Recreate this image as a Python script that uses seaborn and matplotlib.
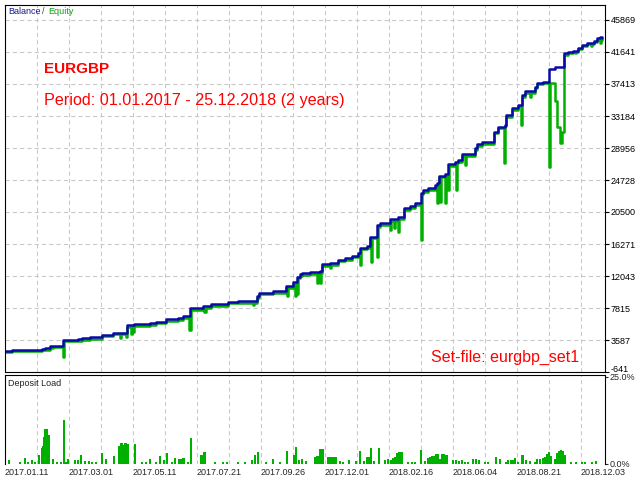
import numpy as np
import pandas as pd
import matplotlib
matplotlib.use("Agg")
import matplotlib.pyplot as plt
import seaborn as sns

# --- data (x = deal index along the chart) ---
bal_x = [0, 7, 37, 40, 45, 48, 58, 73, 77, 85, 97, 108, 122, 129, 145, 151, 161, 173, 178, 185,
         198, 206, 223, 233, 252, 254, 268, 281, 288, 292, 295, 297, 305, 315, 317, 325, 333, 340,
         347, 353, 355, 362, 365, 372, 375, 385, 393, 399, 405, 410, 416, 418, 423, 430, 432, 434,
         440, 443, 450, 453, 457, 467, 470, 472, 477, 489, 493, 500, 501, 507, 513, 517, 520, 530,
         532, 538, 544, 550, 559, 563, 568, 573, 577, 582, 589, 592, 595, 597]
balance = [2130, 2270, 2400, 2530, 2730, 2830, 3590, 3720, 3850, 3980, 4290, 4550, 5570, 5700,
           5830, 5970, 6360, 6490, 6760, 7815, 8080, 8340, 8610, 8740, 9400, 9800, 10060, 10660,
           11250, 11960, 12310, 12440, 12570, 12700, 13630, 13760, 14160, 14420, 14690, 15080,
           15780, 16010, 17260, 18780, 19050, 19580, 19840, 21030, 21290, 21690, 23050, 23410,
           23670, 24070, 24290, 25300, 25520, 26840, 27150, 27370, 28100, 28160, 28960, 29480,
           29750, 31110, 31770, 32000, 33320, 34240, 34640, 35960, 36490, 37060, 37580, 37720,
           39400, 39620, 41470, 41680, 41810, 42210, 42570, 42870, 43140, 43450, 43580, 43450]

eq_x = [0, 7, 37, 40, 45, 48, 58, 59, 73, 77, 85, 97, 108, 115, 116, 121, 122, 126, 127, 128, 129,
        145, 151, 161, 173, 178, 184, 186, 198, 199, 201, 206, 223, 233, 248, 249, 251, 252, 254,
        268, 281, 282, 283, 288, 290, 291, 292, 293, 295, 297, 305, 312, 313, 315, 316, 317, 325,
        326, 333, 340, 347, 353, 355, 356, 362, 365, 366, 367, 372, 373, 375, 385, 386, 389, 390,
        393, 394, 399, 405, 410, 416, 417, 418, 423, 430, 432, 433, 434, 435, 436, 440, 441, 443,
        444, 450, 451, 452, 453, 457, 460, 461, 467, 470, 472, 477, 489, 493, 499, 500, 501, 507,
        513, 516, 517, 520, 525, 526, 530, 532, 538, 544, 545, 550, 552, 555, 557, 559, 563, 568,
        570, 571, 573, 577, 582, 586, 587, 589, 592, 595, 596, 597]
equity = [1950, 2080, 2210, 2330, 2530, 2630, 1340, 3390, 3520, 3650, 3780, 4090, 4350, 3850, 4350,
          3980, 5370, 4380, 5370, 4640, 5500, 5630, 5770, 6160, 6290, 6560, 4910, 7610, 7880, 7330,
          7880, 8140, 8410, 8540, 8210, 8540, 8480, 9200, 9600, 9860, 10450, 9400, 10450, 11050,
          9400, 11050, 9660, 11750, 12100, 12240, 12370, 11120, 12500, 11120, 12500, 13430, 13100,
          13560, 13960, 14220, 14490, 14880, 13500, 15580, 15800, 17060, 13930, 17060, 14590, 18580,
          18840, 18120, 19370, 18390, 19370, 17900, 19640, 20820, 21090, 21490, 16800, 22850, 23200,
          23470, 23860, 21730, 24090, 25090, 21820, 25090, 21690, 25320, 23400, 26640, 26940, 23400,
          26940, 27170, 27890, 26710, 27890, 27960, 28750, 29280, 29550, 30900, 31570, 26930, 31800,
          33110, 34040, 34440, 32000, 35760, 36280, 35740, 36280, 36850, 37380, 37520, 26490, 37500,
          35160, 31770, 29620, 31110, 41270, 41480, 41610, 41470, 41610, 42010, 42370, 42670, 42430,
          42670, 42930, 43250, 42870, 43380, 43250]

load_x = [4, 15, 20, 23, 27, 30, 34, 37, 38, 39, 40, 41, 42, 43, 44, 48, 52, 56, 59, 61, 63, 70, 73,
          76, 80, 84, 87, 91, 97, 101, 109, 114, 115, 116, 117, 118, 119, 120, 121, 122, 123, 130,
          137, 141, 145, 151, 155, 159, 162, 167, 170, 174, 175, 176, 177, 178, 179, 183, 186, 196,
          197, 198, 199, 200, 210, 218, 222, 233, 240, 247, 250, 253, 261, 268, 275, 282, 289, 291,
          294, 297, 301, 310, 312, 314, 315, 316, 317, 318, 323, 324, 325, 326, 327, 328, 329, 330,
          331, 335, 338, 344, 351, 355, 359, 362, 364, 366, 369, 374, 380, 383, 386, 388, 389, 390,
          391, 392, 393, 394, 395, 396, 397, 403, 407, 410, 416, 420, 423, 424, 425, 426, 427, 428,
          429, 430, 431, 432, 433, 434, 435, 436, 437, 438, 439, 440, 441, 442, 448, 451, 454, 457,
          460, 463, 468, 471, 474, 480, 483, 491, 495, 501, 503, 506, 508, 510, 513, 517, 518, 521,
          525, 530, 532, 535, 538, 540, 542, 544, 546, 550, 552, 554, 556, 558, 560, 566, 571, 577,
          580, 587, 591]
load_pct = [1.0, 0.5, 1.6, 0.5, 1.0, 0.5, 2.4, 4.6, 5.0, 7.7, 10.0, 10.0, 10.0, 8.1, 8.1, 1.2, 0.5,
            0.5, 12.5, 0.5, 1.4, 1.0, 1.0, 2.4, 0.6, 0.6, 0.5, 0.5, 2.9, 1.4, 2.1, 5.0, 5.0, 6.0,
            6.0, 5.3, 5.3, 6.0, 6.0, 5.7, 5.7, 5.6, 0.5, 0.5, 1.2, 0.5, 2.1, 1.0, 2.9, 0.5, 1.6, 1.4,
            1.4, 1.4, 1.4, 1.7, 1.7, 0.5, 7.4, 2.4, 2.4, 2.4, 3.4, 3.4, 0.5, 0.5, 0.5, 0.5, 0.5, 1.1,
            2.4, 3.4, 0.5, 1.2, 0.5, 3.6, 2.4, 4.8, 1.0, 1.4, 0.6, 1.9, 2.2, 2.2, 4.3, 4.3, 4.3, 4.3,
            1.9, 1.9, 1.9, 1.9, 1.9, 1.9, 1.9, 1.9, 1.9, 0.6, 0.5, 1.0, 0.6, 3.6, 0.8, 1.9, 1.9, 4.6,
            0.6, 4.6, 1.1, 1.2, 1.1, 1.7, 1.7, 1.9, 1.9, 3.1, 3.1, 3.4, 3.4, 3.3, 3.3, 0.5, 0.5, 0.5,
            4.0, 0.6, 1.6, 1.6, 1.9, 1.9, 2.1, 2.1, 2.3, 2.3, 2.7, 2.7, 2.7, 1.4, 1.4, 1.4, 2.7, 2.7,
            2.7, 2.4, 2.4, 2.4, 1.0, 1.1, 0.6, 1.1, 0.5, 0.5, 1.3, 1.4, 1.0, 0.5, 0.5, 1.9, 1.3, 0.5,
            1.0, 1.1, 1.0, 1.6, 0.5, 2.4, 2.4, 1.1, 0.6, 0.5, 1.2, 1.4, 1.7, 1.9, 2.7, 3.4, 2.1, 1.4,
            3.1, 3.6, 3.8, 3.6, 2.4, 0.5, 0.5, 0.5, 0.5, 0.5, 0.6]

y_ticks = [-641, 3587, 7815, 12043, 16271, 20500, 24728, 28956, 33184, 37413, 41641, 45869]
date_pos = [0, 64, 128, 192, 256, 320, 384, 448, 512, 576]
date_labels = ["2017.01.11", "2017.03.01", "2017.05.11", "2017.07.21", "2017.09.26",
               "2017.12.01", "2018.02.16", "2018.06.04", "2018.08.21", "2018.12.03"]

df_bal = pd.DataFrame({"deal": bal_x, "value": balance})
df_eq = pd.DataFrame({"deal": eq_x, "value": equity})
df_load = pd.DataFrame({"deal": load_x, "pct": load_pct})

# --- style ---
sns.set_style("white")
plt.rcParams["font.family"] = ["Liberation Sans", "DejaVu Sans"]

BLUE = "#0A0AA8"
GREEN = "#00B000"
GRID = "#C8C8C8"
W, H = 640, 480

fig = plt.figure(figsize=(6.4, 4.8), dpi=100)
ax = fig.add_axes([4.5 / W, 1 - 372 / H, 600.5 / W, 367.5 / H])
ax2 = fig.add_axes([4.5 / W, 1 - 463.5 / H, 600.5 / W, 89 / H])

# main panel: equity under balance
sns.lineplot(data=df_eq, x="deal", y="value", ax=ax, color=GREEN, lw=1.8,
             drawstyle="steps-post", estimator=None, sort=False)
sns.lineplot(data=df_bal, x="deal", y="value", ax=ax, color=BLUE, lw=1.8,
             drawstyle="steps-post", estimator=None, sort=False)

ax.set_xlim(-0.5, 600)
ax.set_ylim(-641, 47917)
ax.set_xticks(np.arange(32, 600, 32))
ax.set_yticks(y_ticks)
ax.set_yticklabels([str(v) for v in y_ticks])
ax.yaxis.tick_right()
ax.tick_params(axis="y", direction="out", length=3, width=0.8, pad=1, labelsize=6.5,
               colors="black")
ax.get_yticklabels()[0].set_va("baseline")
ax.tick_params(axis="x", length=0, labelbottom=False)
ax.grid(True, color=GRID, lw=0.75, ls=(0, (4, 3)))
ax.set_xlabel("")
ax.set_ylabel("")
for s in ax.spines.values():
    s.set_color("black")
    s.set_linewidth(0.8)

# deposit load panel
ax2.bar(df_load["deal"], df_load["pct"], width=1.6, color=GREEN, lw=0, align="center")
ax2.set_xlim(-0.5, 600)
ax2.set_ylim(0, 25.7)
ax2.set_xticks(date_pos)
ax2.set_xticklabels(date_labels, ha="left")
ax2.set_xticks(np.arange(32, 600, 64), minor=True)
ax2.set_yticks([0, 25])
ax2.set_yticklabels(["0.0%", "25.0%"])
ax2.get_yticklabels()[1].set_va("top")
ax2.yaxis.tick_right()
ax2.tick_params(axis="y", direction="out", length=2, width=0.8, pad=1, labelsize=6.5)
ax2.tick_params(axis="x", which="major", direction="out", length=2, width=0.8, pad=1,
                labelsize=6.5)
ax2.tick_params(axis="x", which="minor", length=0)
ax2.grid(True, axis="x", which="both", color=GRID, lw=0.75, ls=(0, (4, 3)))
ax2.grid(False, axis="y")
for s in ax2.spines.values():
    s.set_color("black")
    s.set_linewidth(0.8)
ax2.spines["bottom"].set_visible(False)


def px(x, y):
    return x / W, 1 - y / H


# labels
fig.text(*px(8, 12), "Balance", color="#1A1A8C", fontsize=6.5, va="center")
fig.text(*px(42, 12), "/", color="#404040", fontsize=6.5, va="center")
fig.text(*px(48, 12), "Equity", color="#11A011", fontsize=6.5, va="center")
fig.text(*px(8, 383), "Deposit Load", color="#202020", fontsize=6.5, va="center")

fig.text(*px(44, 73), "EURGBP", color="#FF0000", fontsize=11, fontweight="bold", va="baseline")
fig.text(*px(44, 105.5), "Period: 01.01.2017 - 25.12.2018 (2 years)", color="#FF0000",
         fontsize=11.6, va="baseline")
fig.text(*px(431, 361.5), "Set-file: eurgbp_set1", color="#FF0000", fontsize=11.5,
         va="baseline")

fig.savefig("out.png", dpi=100)
